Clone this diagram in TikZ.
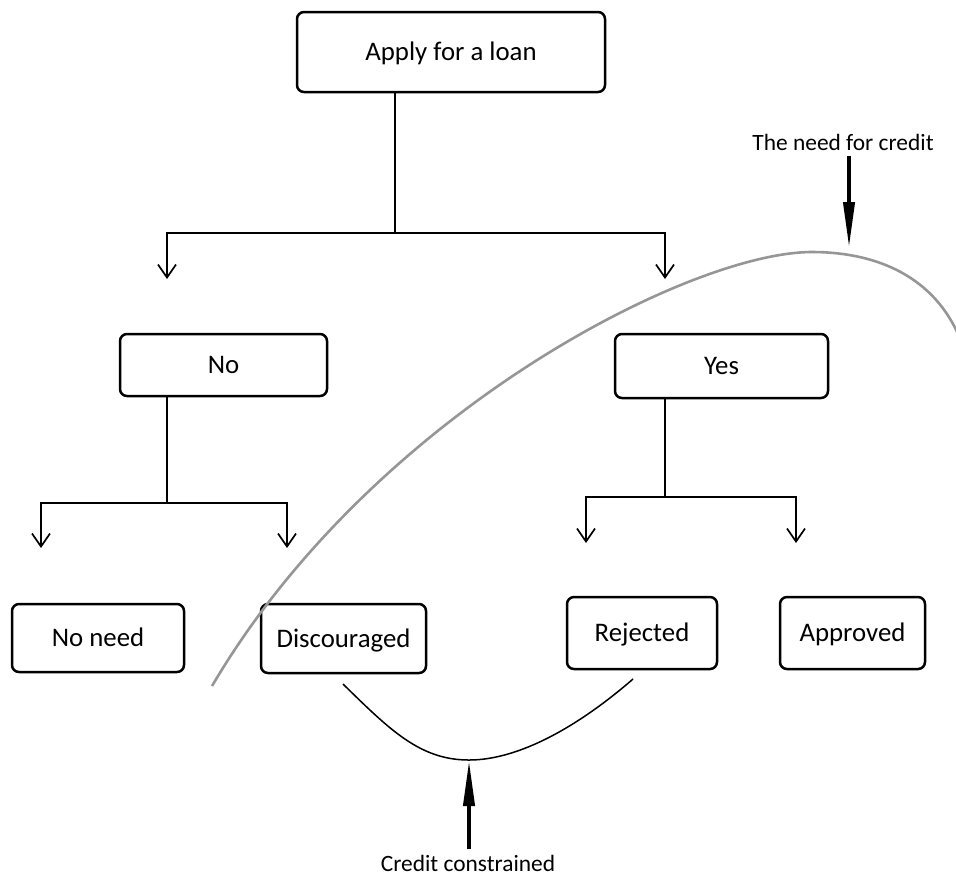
\documentclass[tikz,border=0pt]{standalone}
\usepackage{fontspec}
\setmainfont{Carlito}
\usetikzlibrary{arrows.meta}
\definecolor{curvegray}{RGB}{150,150,150}
\begin{document}
\begin{tikzpicture}[x=0.5pt,y=-0.5pt,
  box/.style={draw, line width=1.25pt, rounded corners=3.5pt, inner sep=0pt,
    text height=8.6pt, text depth=0pt, font=\fontsize{13.4}{16}\selectfont},
  conn/.style={line width=0.85pt},
  branch/.style={conn, -{Straight Barb[length=6.5pt,width=9pt,line width=0.85pt]}},
  note/.style={font=\fontsize{11.7}{14}\selectfont, inner sep=2.5pt},
  bigarrow/.style={line width=2pt, -{Triangle[length=23pt,width=5.5pt]}},
  needcurve/.style={draw=curvegray, line width=1.3pt},
  ccurve/.style={line width=0.75pt}]
\useasboundingbox (0,0) rectangle (956,875);

% boxes
\node[box, minimum width=154pt, minimum height=40pt] (apply) at (451,52) {Apply for a loan};
\node[box, minimum width=103.5pt, minimum height=31pt] (no) at (223.5,365) {No};
\node[box, minimum width=106.5pt, minimum height=32pt] (yes) at (721.5,366) {Yes};
\node[box, minimum width=86pt, minimum height=34pt] (noneed) at (98,638) {No need};
\node[box, minimum width=82.5pt, minimum height=34.5pt] (disc) at (343.5,638.5) {Discouraged};
\node[box, minimum width=75pt, minimum height=36pt] (rej) at (642,633) {Rejected};
\node[box, minimum width=72.5pt, minimum height=36pt] (appr) at (852.5,633) {Approved};

% top branching
\coordinate (j0) at (395,233);
\coordinate (a1) at (167,279);
\coordinate (a2) at (665,279);
\draw[conn] (apply.south -| j0) -- (j0);
\draw[branch] (j0) -| (a1);
\draw[branch] (j0) -| (a2);

% No branching
\coordinate (j1) at (167,503);
\coordinate (b1) at (41,548);
\coordinate (b2) at (287,548);
\draw[conn] (no.south -| j1) -- (j1);
\draw[branch] (j1) -| (b1);
\draw[branch] (j1) -| (b2);

% Yes branching
\coordinate (j2) at (665,497);
\coordinate (c1) at (586,543);
\coordinate (c2) at (796,543);
\draw[conn] (yes.south -| j2) -- (j2);
\draw[branch] (j2) -| (c1);
\draw[branch] (j2) -| (c2);

% need-for-credit curve
\draw[needcurve] (212,686) .. controls (372,414) and (690,252) .. (812,252)
  .. controls (870,252) and (930,272) .. (958,334);

% credit constrained curve
\coordinate (bot) at (469,760);
\draw[ccurve] (343,684) .. controls (390,730) and (420,760) .. (bot)
  .. controls (520,760) and (580,725) .. (633,679);

% annotations
\node[note, anchor=base] (need) at (843,150) {The need for credit};
\coordinate (tA) at (849,248);
\draw[bigarrow] (need.south -| tA) -- (tA);

\node[note, anchor=base] (cc) at (468,871) {Credit constrained};
\draw[bigarrow] (cc.north -| bot) -- (bot);
\end{tikzpicture}
\end{document}
